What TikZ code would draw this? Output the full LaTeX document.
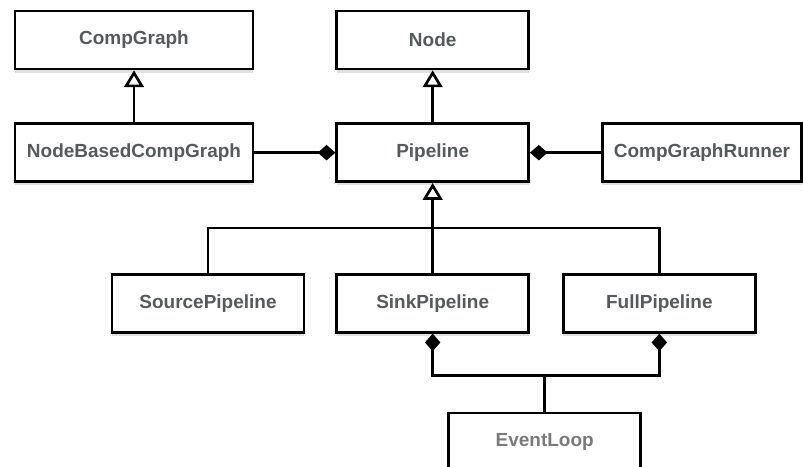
\documentclass[tikz,border=0pt]{standalone}
\usepackage{fontspec}
\setmainfont{Liberation Sans}
\usepackage{xcolor}
\usetikzlibrary{positioning,arrows.meta,calc,shadows}

\definecolor{labelgrey}{HTML}{555A5C}
\definecolor{fadegrey}{HTML}{7A7A7A}

\begin{document}
\begin{tikzpicture}[
    node distance=1.3cm,
    cls/.style={rectangle, draw, line width=1.9pt, fill=white, minimum width=4.8cm, minimum height=1.45cm, align=center, text=labelgrey, font=\bfseries\fontsize{13.5}{16}\selectfont, drop shadow={shadow xshift=0pt, shadow yshift=-2.5pt, fill=black!12, opacity=1}},
    link/.style={line width=1.9pt},
    inherit/.style={link, -{Triangle[open, length=12pt 0 0, width=14pt 0 0, line width=1.9pt]}},
    compose/.style={link, -{Diamond[length=12.5pt 0 0, width=11pt 0 0]}}
]

\useasboundingbox (0,0) rectangle (20.075,-11.675);

% Top row
\node[cls, minimum width=5.95cm] (compgraph) at (3.35,-1.0) {CompGraph};
\node[cls, right=2.025cm of compgraph] (node) {Node};

% Second row
\node[cls, minimum width=5.95cm, below=1.3cm of compgraph] (nbcompgraph) {NodeBasedCompGraph};
\node[cls, below=1.3cm of node] (pipeline) {Pipeline};
\node[cls, minimum width=4.98cm, right=1.775cm of pipeline] (runner) {CompGraphRunner};

% Pipeline subclasses
\node[cls, below=2.25cm of pipeline] (sink) {SinkPipeline};
\node[cls, left=0.75cm of sink] (source) {SourcePipeline};
\node[cls, right=0.8cm of sink] (full) {FullPipeline};

% Event loop, cut off at the bottom
\node[cls, text=fadegrey, below=1.95cm of sink, xshift=2.8cm] (eventloop) {EventLoop};

% Inheritance
\draw[inherit] (nbcompgraph) -- (compgraph);
\draw[inherit] (pipeline) -- (node);
\coordinate (ibus) at ($(pipeline.south)!0.5!(sink.north)$);
\draw[link] (source.north) |- (ibus) -| (full.north);
\draw[inherit] (sink.north) -- (pipeline.south);

% Composition
\draw[compose] (nbcompgraph) -- (pipeline);
\draw[compose] (runner) -- (pipeline);
\coordinate (cbus) at ($(eventloop.north)+(0,0.9)$);
\draw[link] (eventloop.north) -- (cbus);
\draw[compose] (cbus) -| (sink.south);
\draw[compose] (cbus) -| (full.south);

\end{tikzpicture}
\end{document}
